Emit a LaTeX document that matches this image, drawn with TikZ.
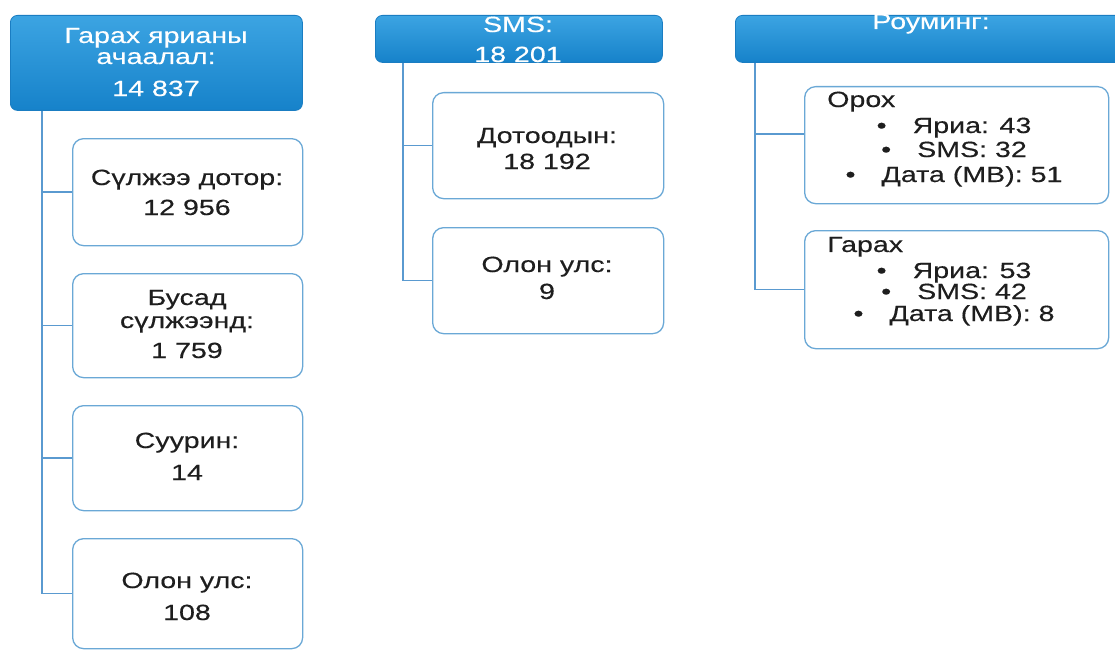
\documentclass[tikz,border=0pt]{standalone}
\usepackage{fontspec}
\setmainfont{Liberation Sans}[FakeStretch=1.3,FakeBold=0.3]
\definecolor{headtop}{HTML}{3CA4E2}
\definecolor{headbot}{HTML}{1682CA}
\definecolor{headline}{HTML}{1A7DC2}
\definecolor{boxline}{HTML}{6AA8D6}
\definecolor{connc}{HTML}{5A9AD0}
\definecolor{inkc}{HTML}{1E1E1E}
\tikzset{
  head/.style={draw=headline, line width=0.8pt, rounded corners=7pt, top color=headtop, bottom color=headbot, anchor=north west, inner sep=0pt},
  child/.style={draw=boxline, line width=1.3pt, rounded corners=11pt, fill=white, anchor=north west, inner sep=0pt},
  wtxt/.style={text=white, font=\fontsize{22}{18}\selectfont, anchor=base, inner sep=0pt},
  btxt/.style={text=inkc, font=\fontsize{22}{18}\selectfont, anchor=base, inner sep=0pt},
  ltxt/.style={text=inkc, font=\fontsize{22}{18}\selectfont, anchor=base west, inner sep=0pt},
  conn/.style={draw=connc, line width=1.6pt},
}
\newcommand{\bul}{\textbullet\hspace{26pt}}
\begin{document}
\begin{tikzpicture}[x=1pt,y=-1pt]
\clip (0,0) rectangle (1115,650);
\fill[white] (0,0) rectangle (1115,650);
% ---------- group 1 ----------
\node[head, minimum width=292pt, minimum height=95pt] (h1) at (10,15) {};
\node[wtxt] (h1a) at (156,43) {Гарах ярианы};
\node[wtxt] (h1b) at (156,64) {ачаалал:};
\node[wtxt] (h1c) at (156,96) {14 837};
\node[child, minimum width=230pt, minimum height=107pt] (c11) at (72,138) {};
\node[child, minimum width=230pt, minimum height=104pt] (c12) at (72,273) {};
\node[child, minimum width=230pt, minimum height=105pt] (c13) at (72,405) {};
\node[child, minimum width=230pt, minimum height=110pt] (c14) at (72,538) {};
\node[btxt] (t11a) at (187,185) {Сүлжээ дотор:};
\node[btxt] (t11b) at (187,215) {12 956};
\node[btxt] (t12a) at (187,305) {Бусад};
\node[btxt] (t12b) at (187,328) {сүлжээнд:};
\node[btxt] (t12c) at (187,358) {1 759};
\node[btxt] (t13a) at (187,448) {Суурин:};
\node[btxt] (t13b) at (187,480) {14};
\node[btxt] (t14a) at (187,588) {Олон улс:};
\node[btxt] (t14b) at (187,620) {108};
\coordinate (v1) at ([xshift=32pt]h1.south west);
\draw[conn] (v1) |- (c14.west);
\draw[conn] (v1 |- c11.west) -- (c11.west);
\draw[conn] (v1 |- c12.west) -- (c12.west);
\draw[conn] (v1 |- c13.west) -- (c13.west);
% ---------- group 2 ----------
\node[head, minimum width=287pt, minimum height=47pt] (h2) at (375,15) {};
\node[wtxt] (h2a) at (518,32) {SMS:};
\node[wtxt] (h2b) at (518,62) {18 201};
\node[child, minimum width=231pt, minimum height=106pt] (c21) at (432,92) {};
\node[child, minimum width=231pt, minimum height=106pt] (c22) at (432,227) {};
\node[btxt] (t21a) at (547,143) {Дотоодын:};
\node[btxt] (t21b) at (547,169) {18 192};
\node[btxt] (t22a) at (547,272) {Олон улс:};
\node[btxt] (t22b) at (547,299) {9};
\coordinate (v2) at ([xshift=28pt]h2.south west);
\draw[conn] (v2) |- (c22.west);
\draw[conn] (v2 |- c21.west) -- (c21.west);
% ---------- group 3 ----------
\node[head, minimum width=392pt, minimum height=47pt] (h3) at (735,15) {};
\node[wtxt] (h3a) at (931,29) {Роуминг:};
\node[child, minimum width=304pt, minimum height=117pt] (c31) at (804,86) {};
\node[child, minimum width=304pt, minimum height=118pt] (c32) at (804,230) {};
\node[ltxt] (t31a) at (827,107) {Орох};
\node[btxt] (t31b) at (954,133) {\bul Яриа: 43};
\node[btxt] (t31c) at (954,157) {\bul SMS: 32};
\node[btxt] (t31d) at (954,182) {\bul Дата (MB): 51};
\node[ltxt] (t32a) at (827,252) {Гарах};
\node[btxt] (t32b) at (954,278) {\bul Яриа: 53};
\node[btxt] (t32c) at (954,299) {\bul SMS: 42};
\node[btxt] (t32d) at (954,321) {\bul Дата (MB): 8};
\coordinate (v3) at ([xshift=20pt]h3.south west);
\coordinate (c31in) at ([yshift=11pt]c31.west);
\draw[conn] (v3) |- (c32.west);
\draw[conn] (v3 |- c31in) -- (c31in);
\end{tikzpicture}
\end{document}
